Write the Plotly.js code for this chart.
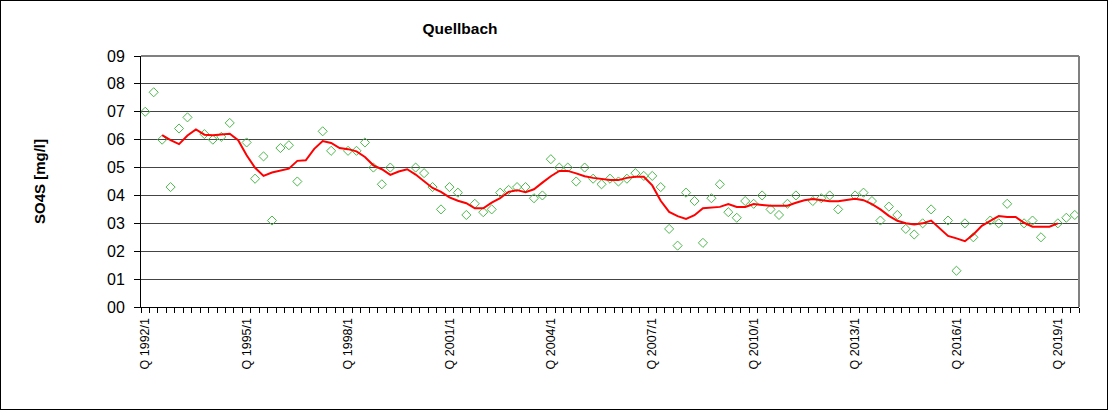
<!DOCTYPE html>
<html>
<head>
<meta charset="utf-8">
<script src="https://cdn.plot.ly/plotly-3.0.1.min.js"></script>
<style>
  html, body { margin: 0; padding: 0; background: #fff; }
  #wrap { position: relative; width: 1108px; height: 410px; }
  #chart { width: 1108px; height: 410px; }
  #frame { position: absolute; left: 0; top: 0; width: 1108px; height: 410px; box-sizing: border-box; border: 1px solid #000; pointer-events: none; }
</style>
</head>
<body>
<div id="wrap"><div id="chart"></div><div id="frame"></div></div>
<script>
// Quarterly categories Q 1992/1 ... Q 2019/3
const firstYear = 1992;
const nQuarters = 111;
const categories = [];
for (let k = 0; k < nQuarters; k++) {
  categories.push('Q ' + (firstYear + Math.floor(k / 4)) + '/' + (k % 4 + 1));
}

// Measured SO4S values (mg/l), one per quarter, null = no sample
const measured = [
  7.0, 7.7, 6.0, 4.3, 6.4, 6.8, null, 6.2, 6.0, 6.1,
  6.6, null, 5.9, 4.6, 5.4, 3.1, 5.7, 5.8, 4.5, null,
  null, 6.3, 5.6, null, 5.6, 5.6, 5.9, 5.0, 4.4, 5.0,
  null, null, 5.0, 4.8, 4.3, 3.5, 4.3, 4.1, 3.3, 3.7,
  3.4, 3.5, 4.1, 4.2, 4.3, 4.3, 3.9, 4.0, 5.3, 5.0,
  5.0, 4.5, 5.0, 4.6, 4.4, 4.6, 4.5, 4.6, 4.8, 4.7,
  4.7, 4.3, 2.8, 2.2, 4.1, 3.8, 2.3, 3.9, 4.4, 3.4,
  3.2, 3.8, 3.7, 4.0, 3.5, 3.3, 3.7, 4.0, null, 3.8,
  3.9, 4.0, 3.5, null, 4.0, 4.1, 3.8, 3.1, 3.6, 3.3,
  2.8, 2.6, 3.0, 3.5, null, 3.1, 1.3, 3.0, 2.5, null,
  3.1, 3.0, 3.7, null, 3.0, 3.1, 2.5, null, 3.0, 3.2,
  3.3
];

// Moving average (red line), null where not defined
const movingAvg = [
  null, null, 6.16, 5.98, 5.84, 6.15, 6.37, 6.18, 6.16, 6.19,
  6.21, 5.98, 5.44, 4.99, 4.70, 4.82, 4.88, 4.96, 5.24, 5.26,
  5.67, 5.95, 5.88, 5.70, 5.66, 5.58, 5.38, 5.08, 4.94, 4.74,
  4.86, 4.94, 4.75, 4.52, 4.27, 4.13, 3.93, 3.81, 3.72, 3.54,
  3.54, 3.74, 3.90, 4.13, 4.19, 4.12, 4.22, 4.46, 4.69, 4.88,
  4.88, 4.79, 4.69, 4.63, 4.59, 4.55, 4.55, 4.63, 4.67, 4.67,
  4.36, 3.81, 3.41, 3.26, 3.16, 3.29, 3.54, 3.56, 3.59, 3.69,
  3.59, 3.59, 3.69, 3.66, 3.63, 3.63, 3.63, 3.74, 3.83, 3.87,
  3.83, 3.79, 3.79, 3.83, 3.88, 3.83, 3.69, 3.50, 3.27, 3.09,
  3.00, 2.96, 3.00, 3.10, 2.84, 2.55, 2.46, 2.36, 2.60, 2.91,
  3.09, 3.26, 3.23, 3.23, 3.02, 2.88, 2.88, 2.88, 3.00, null,
  null
];

const tickLabels = ['Q 1992/1', 'Q 1995/1', 'Q 1998/1', 'Q 2001/1', 'Q 2004/1',
                    'Q 2007/1', 'Q 2010/1', 'Q 2013/1', 'Q 2016/1', 'Q 2019/1'];
const yTickValues = [0, 1, 2, 3, 4, 5, 6, 7, 8, 9];
const yTickLabels = ['00', '01', '02', '03', '04', '05', '06', '07', '08', '09'];

const xIdx = categories.map((c, i) => i);
const tickPos = tickLabels.map(t => categories.indexOf(t));

const FONT = 'Liberation Sans, Arial, sans-serif';

const traces = [
  {
    type: 'scatter', mode: 'markers', name: 'SO4S',
    x: xIdx, y: measured, text: categories,
    marker: { symbol: 'diamond-open', size: 7, color: '#4cb84c', line: { width: 1, color: '#4cb84c' } },
    hoverinfo: 'text+y'
  },
  {
    type: 'scatter', mode: 'lines', name: 'gleitendes Mittel',
    x: xIdx, y: movingAvg, text: categories, connectgaps: false,
    line: { color: '#ff0000', width: 2 },
    hoverinfo: 'text+y'
  }
];

const layout = {
  width: 1108, height: 410,
  margin: { l: 141, r: 29, t: 56, b: 103 },
  paper_bgcolor: '#ffffff', plot_bgcolor: '#ffffff',
  showlegend: false,
  font: { family: FONT, color: '#000' },
  title: {
    text: '<b>Quellbach</b>',
    font: { family: FONT, size: 15.5, color: '#000' },
    x: 460 / 1108, xanchor: 'center', xref: 'container',
    y: 1 - 29 / 410, yanchor: 'middle', yref: 'container'
  },
  xaxis: {
    range: [-0.5, nQuarters - 0.5],
    showgrid: false, zeroline: false,
    showline: true, linecolor: '#000', linewidth: 1,
    tickmode: 'array', tickvals: tickPos, ticktext: tickLabels,
    tickangle: -90, ticks: 'outside', ticklen: 5, tickcolor: 'rgba(0,0,0,0)',
    tickfont: { family: FONT, size: 12.5, color: '#000' },
    minor: { tickmode: 'linear', tick0: -0.5, dtick: 1, ticks: 'outside', ticklen: 5, tickcolor: '#000', tickwidth: 1, showgrid: false }
  },
  yaxis: {
    range: [0, 9],
    tickmode: 'array', tickvals: yTickValues, ticktext: yTickLabels,
    showgrid: true, gridcolor: '#444444', gridwidth: 1,
    zeroline: false,
    showline: true, linecolor: '#000', linewidth: 1,
    ticks: 'outside', ticklen: 6, tickcolor: '#000',
    ticklabelstandoff: 6,
    tickfont: { family: FONT, size: 16, color: '#000' },
    title: { text: '<b>SO4S [mg/l]</b>', font: { family: FONT, size: 15, color: '#000' }, standoff: 57 }
  },
  shapes: [
    { type: 'line', xref: 'paper', yref: 'paper', x0: 0, x1: 1, y0: 1, y1: 1, line: { color: '#808080', width: 2 } },
    { type: 'line', xref: 'paper', yref: 'paper', x0: 1, x1: 1, y0: 0, y1: 1, line: { color: '#808080', width: 2 } }
  ]
};

Plotly.newPlot('chart', traces, layout, { displayModeBar: false, staticPlot: true });
</script>
</body>
</html>
